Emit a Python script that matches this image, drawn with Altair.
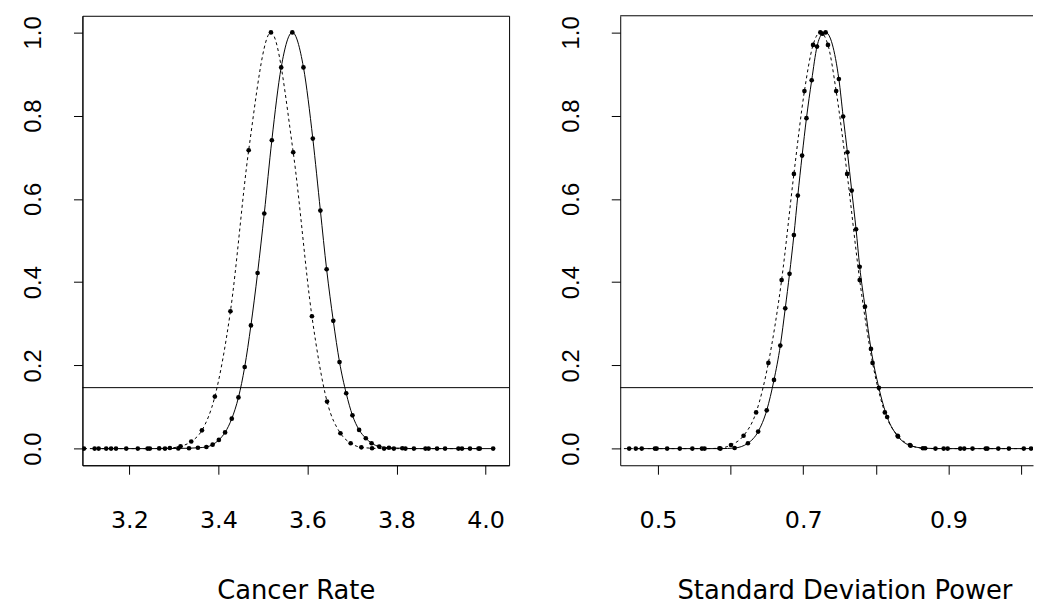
import altair as alt
import pandas as pd

# ---------------- data ----------------
# Left panel: Cancer Rate (solid = profile, dotted = approximation)
cr_solid_x = [3.131, 3.159, 3.246, 3.280, 3.310, 3.334, 3.354, 3.373, 3.387, 3.401,
              3.415, 3.430, 3.445, 3.459, 3.473, 3.488, 3.503, 3.520, 3.541, 3.566,
              3.591, 3.612, 3.629, 3.643, 3.658, 3.672, 3.687, 3.701, 3.716, 3.731,
              3.744, 3.761, 3.783, 3.813, 3.839, 3.872, 3.909, 3.947, 3.984, 4.017]
cr_solid_y = [0.0, 0.0, 0.0, 0.0, 0.0005, 0.001, 0.002, 0.004, 0.0095, 0.021,
              0.039, 0.072, 0.123, 0.196, 0.296, 0.422, 0.565, 0.741, 0.916, 1.0,
              0.916, 0.745, 0.572, 0.431, 0.307, 0.208, 0.133, 0.080, 0.045, 0.025,
              0.013, 0.005, 0.002, 0.001, 0.0, 0.0, 0.0, 0.0, 0.0, 0.0]
cr_dotted_x = [3.098, 3.122, 3.148, 3.170, 3.193, 3.219, 3.241, 3.267, 3.291, 3.315,
               3.339, 3.363, 3.392, 3.427, 3.468, 3.518, 3.568, 3.610, 3.644, 3.674,
               3.697, 3.721, 3.745, 3.772, 3.794, 3.820, 3.865, 3.891, 3.939, 3.965, 3.987]
cr_dotted_y = [0.0, 0.0, 0.0, 0.0, 0.0, 0.0, 0.0, 0.0005, 0.0015, 0.0055,
               0.017, 0.044, 0.125, 0.330, 0.717, 1.0, 0.712, 0.318, 0.113, 0.037,
               0.013, 0.003, 0.001, 0.0, 0.0, 0.0, 0.0, 0.0, 0.0, 0.0, 0.0]

# Right panel: Standard Deviation Power
sd_solid_x = [0.4695, 0.4959, 0.5606, 0.5861, 0.6056, 0.6239, 0.6380, 0.6498, 0.6598, 0.6685,
              0.6753, 0.6812, 0.6872, 0.6926, 0.6985, 0.7045, 0.7117, 0.7190, 0.7263, 0.7309,
              0.7491, 0.7550, 0.7609, 0.7668, 0.7728, 0.7778, 0.7851, 0.7933, 0.8042, 0.8156,
              0.8306, 0.8479, 0.8679, 0.8934, 0.9217, 0.9513, 0.9832, 1.0137]
sd_solid_y = [0.0, 0.0, 0.0, 0.0, 0.0015, 0.013, 0.041, 0.092, 0.165, 0.2475,
              0.337, 0.420, 0.513, 0.608, 0.704, 0.794, 0.885, 0.966, 0.997, 1.0,
              0.888, 0.798, 0.712, 0.620, 0.527, 0.437, 0.341, 0.2396, 0.146, 0.076,
              0.029, 0.007, 0.001, 0.0, 0.0, 0.0, 0.0, 0.0]
sd_dotted_x = [0.445, 0.4604, 0.4777, 0.4982, 0.5127, 0.5301, 0.5474, 0.5642, 0.5847, 0.6006,
               0.6179, 0.6352, 0.6521, 0.6703, 0.6872, 0.7017, 0.7136, 0.7236, 0.7341, 0.7454,
               0.7605, 0.7778, 0.7955, 0.8124, 0.8300, 0.8470, 0.8648, 0.8821, 0.8989, 0.9162,
               0.9331, 0.9536, 0.9686, 1.0037]
sd_dotted_y = [0.0, 0.0, 0.0, 0.0, 0.0, 0.0, 0.0, 0.0, 0.001, 0.0087,
               0.031, 0.087, 0.206, 0.405, 0.660, 0.859, 0.970, 1.0, 0.970, 0.859,
               0.660, 0.405, 0.206, 0.087, 0.031, 0.0087, 0.001, 0.0, 0.0, 0.0,
               0.0, 0.0, 0.0, 0.0]

cutoff = [0.1465]                      # horizontal reference line
cr_ticks = [3.2, 3.4, 3.6, 3.8, 4.0]
sd_ticks = [0.5, 0.6, 0.7, 0.8, 0.9, 1.0]
sd_shown = ["0.5", "0.7", "0.9"]       # labels R managed to print
y_ticks = [0.0, 0.2, 0.4, 0.6, 0.8, 1.0]
titles = ["Cancer Rate", "Standard Deviation Power"]

# ---------------- styling ----------------
XFONT = "DejaVu Sans"
YFONT = "Liberation Sans"
H = 453
Y_DOMAIN = [-0.04, 1.04]


def panel(sx, sy, dx, dy, xdom, ticks, label_expr, title, width, title_x, boxed):
    df = pd.concat([
        pd.DataFrame({"x": sx, "y": sy, "s": "solid"}),
        pd.DataFrame({"x": dx, "y": dy, "s": "dotted"}),
    ], ignore_index=True)
    xs = alt.Scale(domain=xdom, nice=False, zero=False)
    ys = alt.Scale(domain=Y_DOMAIN, nice=False, zero=False)
    xaxis_kw = dict(values=ticks, labelExpr=label_expr, title=title,
                    labelOverlap=False, labelFlush=False)
    if title_x is not None:
        xaxis_kw["titleX"] = title_x
    xaxis = alt.Axis(**xaxis_kw)
    yaxis = alt.Axis(values=y_ticks, format=".1f", title=None, labelAngle=270,
                     labelAlign="center", labelBaseline="alphabetic",
                     labelOverlap=False, labelFlush=False)
    X = alt.X("x:Q", scale=xs, axis=xaxis)
    Y = alt.Y("y:Q", scale=ys, axis=yaxis)
    base = alt.Chart(df)
    solid = base.transform_filter(alt.datum.s == "solid")
    dotted = base.transform_filter(alt.datum.s == "dotted")
    layers = [
        alt.Chart(pd.DataFrame({"c": cutoff})).mark_rule(color="black", strokeWidth=1)
        .encode(y=alt.Y("c:Q", scale=ys, axis=yaxis)),
        solid.mark_line(color="black", strokeWidth=1, interpolate="monotone", clip=True)
        .encode(x=X, y=Y),
        dotted.mark_line(color="black", strokeWidth=1, strokeDash=[3, 3],
                         interpolate="monotone", clip=True).encode(x=X, y=Y),
        solid.mark_circle(color="black", size=22, opacity=1, clip=True).encode(x=X, y=Y),
        dotted.mark_circle(color="black", size=22, opacity=1, clip=True).encode(x=X, y=Y),
    ]
    if not boxed:
        layers.append(
            alt.Chart(pd.DataFrame({"c": cutoff})).mark_rule(color="black", strokeWidth=1)
            .encode(y=alt.value(0))
        )
    ch = alt.layer(*layers).properties(width=width, height=H)
    if not boxed:
        ch = ch.properties(view=alt.ViewBackground(stroke="transparent"))
    return ch


left = panel(cr_solid_x, cr_solid_y, cr_dotted_x, cr_dotted_y,
             [3.0946, 4.0528], cr_ticks, "format(datum.value, '.1f')",
             titles[0], 430, None, True)
right = panel(sd_solid_x, sd_solid_y, sd_dotted_x, sd_dotted_y,
              [0.4481, 1.0164], sd_ticks,
              "indexof(" + str(sd_shown) + ", format(datum.value, '.1f')) >= 0 ? format(datum.value, '.1f') : ''",
              titles[1], 416, 226, False)

chart = (
    alt.hconcat(left, right, spacing=112, bounds="flush")
    .properties(padding={"left": 13, "top": 4.5, "right": 0, "bottom": 0})
    .configure(background="white")
    .configure_view(stroke="black", strokeWidth=1)
    .configure_axis(
        grid=False, domain=True, domainColor="black", domainWidth=1,
        tickColor="black", tickWidth=1, tickSize=9,
        labelColor="black", titleColor="black", titleFontWeight="normal",
    )
    .configure_axisX(labelFont=XFONT, labelFontSize=24, labelPadding=35,
                     titleFont=XFONT, titleFontSize=26, titlePadding=45)
    .configure_axisY(labelFont=YFONT, labelFontSize=24, labelPadding=33)
)

chart.save("out.html", embed_options={"renderer": "svg", "actions": False})
